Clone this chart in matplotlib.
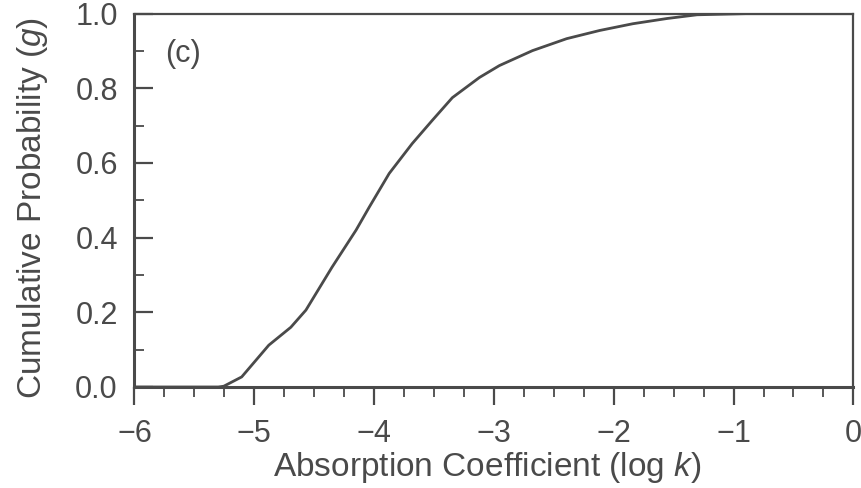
import matplotlib
matplotlib.use('Agg')
import matplotlib.pyplot as plt
from matplotlib.ticker import MultipleLocator

plt.rcParams['font.family'] = ['Liberation Sans', 'DejaVu Sans']
plt.rcParams['mathtext.fontset'] = 'custom'
plt.rcParams['mathtext.it'] = 'Liberation Sans:italic'
plt.rcParams['mathtext.rm'] = 'Liberation Sans'

# cumulative probability g vs log k
log_k = [-6.0, -5.3, -5.255, -5.105, -4.879, -4.695, -4.569, -4.351, -4.151,
         -4.042, -3.874, -3.682, -3.515, -3.347, -3.121, -2.954, -2.678,
         -2.393, -2.117, -1.841, -1.556, -1.305, -0.9, 0.0]
g = [0.0, 0.0, 0.002, 0.027, 0.112, 0.160, 0.206, 0.321, 0.420,
     0.481, 0.572, 0.652, 0.714, 0.775, 0.829, 0.861, 0.901,
     0.933, 0.955, 0.973, 0.987, 0.997, 1.0, 1.0]

x_ticks = [-6, -5, -4, -3, -2, -1, 0]
y_ticks = [0.0, 0.2, 0.4, 0.6, 0.8, 1.0]

ink = '#4a4a4a'

fig = plt.figure(figsize=(8.62, 4.88), dpi=100)
ax = fig.add_axes([0.156, 0.207, 0.834, 0.765])

ax.plot(log_k, g, color=ink, lw=2.0, solid_joinstyle='round')

ax.set_xlim(-6, 0)
ax.set_ylim(0, 1.0)
ax.set_xticks(x_ticks)
ax.set_xticklabels([('\u2212%d' % -v) if v < 0 else '0' for v in x_ticks])
ax.set_yticks(y_ticks)
ax.set_yticklabels(['%.1f' % v for v in y_ticks])
ax.xaxis.set_minor_locator(MultipleLocator(0.25))
ax.yaxis.set_minor_locator(MultipleLocator(0.1))

ax.tick_params(axis='x', which='major', direction='out', length=13, width=1.6,
               pad=10, labelsize=22, colors=ink)
ax.tick_params(axis='x', which='minor', direction='out', length=7, width=1.3, colors=ink)
ax.tick_params(axis='y', which='major', direction='in', length=14, width=1.6,
               pad=12, labelsize=22, colors=ink)
ax.tick_params(axis='y', which='minor', direction='in', length=7, width=1.3, colors=ink)

for side in ['left', 'bottom']:
    ax.spines[side].set_linewidth(2.2)
    ax.spines[side].set_color(ink)
for side in ['top', 'right']:
    ax.spines[side].set_linewidth(1.6)
    ax.spines[side].set_color(ink)

# axis titles placed on the figure so the bottom one stays inside the canvas
fig.text(15 / 862, 1 - 208 / 488, 'Cumulative Probability ($g$)', fontsize=24,
         color=ink, rotation=90, ha='left', va='center')
fig.text(487 / 862, 3 / 488, 'Absorption Coefficient (log $k$)', fontsize=24,
         color=ink, ha='center', va='bottom')
ax.text(0.042, 0.893, '(c)', transform=ax.transAxes, fontsize=22, color=ink,
        va='center', ha='left')

fig.savefig('out.png', dpi=100)
